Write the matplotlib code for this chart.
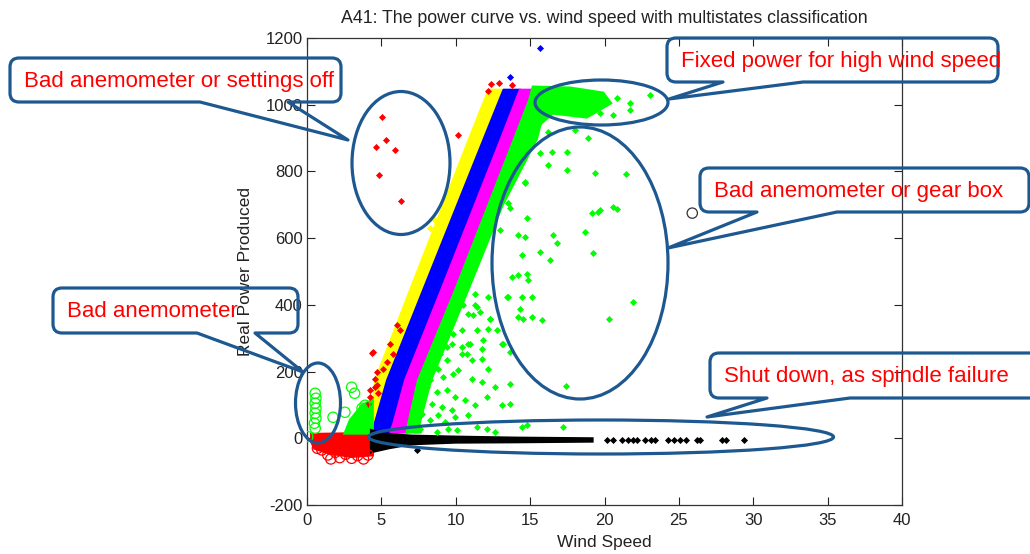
import matplotlib
matplotlib.use("Agg")
import matplotlib.pyplot as plt
from matplotlib.patches import Ellipse, PathPatch
from matplotlib.path import Path

plt.rcParams['font.family'] = ['Liberation Sans', 'DejaVu Sans']
plt.rcParams['axes.unicode_minus'] = False

# ---- data (wind speed, power) ----
# dense bands of the power curve, edges given at these power levels
band_y = [20, 45, 175, 445, 700, 900, 1045]
edge_yellow = [4.40, 4.30, 4.57, 6.92, 9.15, 10.90, 12.20]
edge_blue = [4.45, 4.55, 5.38, 7.80, 10.09, 11.89, 13.20]
edge_magenta = [5.60, 5.80, 6.59, 9.01, 11.27, 13.04, 14.30]
edge_green = [6.70, 6.80, 7.46, 9.95, 12.18, 13.93, 15.20]
edge_green_right = [7.60, 7.50, 8.27, 10.76, 13.08, 15.40, 16.20]

# green plateau at rated power
plateau_x = [14.9, 15.2, 17.7, 19.9, 20.4, 18.8, 16.5, 15.0]
plateau_y = [1000, 1053, 1050, 1035, 1005, 963, 975, 915]

# low speed blocks
red_block_x = [0.3, 4.4, 4.4, 3.0, 1.5, 0.5, 0.3]
red_block_y = [12, 15, -50, -55, -45, -30, -10]
green_block_x = [2.55, 4.4, 4.4, 3.7, 2.9]
green_block_y = [15, 15, 114, 99, 54]

# shut down band (power ~ 0)
black_band_x = [4.3, 5.0, 7.0, 10.0, 14.0, 19.2, 19.2, 14.0, 10.0, 7.0, 5.5, 4.3]
black_band_y = [25, 15, 8, 5, 2, 0, -10, -12, -13, -18, -30, -42]
black_x = [20.2, 20.6, 21.2, 21.6, 21.9, 22.2, 22.7, 23.1, 23.4, 24.3, 24.7,
           25.1, 25.5, 26.2, 26.4, 27.9, 28.2, 29.4, 7.4]
black_y = [-6, -6, -6, -6, -6, -6, -6, -6, -6, -6, -6,
           -6, -6, -6, -6, -6, -6, -6, -36]

red_x = [5.02, 5.31, 4.64, 5.92, 4.84, 6.30, 12.4, 12.9, 13.8, 12.2, 10.16,
         6.03, 5.58, 4.46, 5.80, 5.36, 4.69, 5.13, 4.57, 4.69, 4.24, 4.12,
         6.25, 4.35, 4.57, 4.77, 4.24]
red_y = [962, 894, 873, 864, 789, 712, 1062, 1066, 1060, 1040, 909,
         339, 284, 259, 254, 229, 199, 209, 179, 159, 144, 104,
         324, 256, 153, 135, 123]

blue_x = [13.65, 15.66]
blue_y = [1084, 1170]

yellow_x = [8.27, 8.60, 9.06, 7.93]
yellow_y = [630, 654, 645, 544]

green_x = [16.22, 18.91, 15.66, 16.45, 17.46, 16.22, 17.46, 19.36, 14.66, 13.53,
           13.65, 12.98, 14.21, 14.66, 14.77, 16.52, 16.79, 18.69, 19.14, 15.66,
           14.43, 16.34, 19.25, 13.76, 14.21, 14.77, 14.88, 12.19, 13.43, 14.43,
           15.11, 11.41, 14.32, 14.21, 14.54, 15.11, 15.78, 12.30, 12.19, 12.75,
           11.41, 10.84, 9.84, 10.40, 10.96, 11.85, 13.20, 10.74, 9.39, 10.06,
           10.51, 11.29,
           21.45, 20.59, 20.82, 19.70, 21.90, 20.32,
           10.40, 11.29, 11.18, 11.63, 12.30, 13.53, 9.39, 10.40, 9.16, 9.73,
           10.84, 11.74, 13.09, 13.65, 8.94, 9.39, 10.40, 11.07, 11.74, 12.19,
           10.17, 8.83, 9.16, 9.84, 11.07, 11.74, 12.64, 13.65, 8.27, 8.05,
           8.72, 9.39, 9.95, 10.62, 11.29, 12.08, 13.09, 13.65, 7.71, 8.38,
           9.06, 9.73, 7.71, 8.83, 10.84, 7.26, 8.27, 9.28, 9.95,
           9.50, 10.06, 11.41, 12.08, 12.64, 14.43, 14.77, 17.23, 8.72, 7.60,
           17.40, 20.82, 21.71, 23.06, 21.71, 20.59, 19.70, 18.02, 14.66, 19.59]
green_y = [919, 899, 854, 859, 859, 819, 804, 794, 764, 704,
           689, 624, 609, 604, 659, 609, 584, 619, 674, 559,
           549, 534, 554, 484, 489, 494, 474, 424, 424, 424,
           424, 394, 389, 364, 359, 364, 354, 359, 329, 324,
           324, 374, 314, 274, 284, 294, 284, 254, 274, 414,
           399, 434,
           792, 692, 686, 684, 409, 359,
           404, 399, 369, 379, 359, 424, 349, 324, 304, 284,
           284, 269, 284, 259, 254, 234, 254, 234, 239, 209,
           204, 209, 184, 194, 179, 169, 154, 164, 174, 154,
           139, 144, 124, 114, 99, 124, 99, 104, 114, 104,
           94, 84, 74, 69, 69, 64, 54, 49, 64,
           29, 24, 34, 29, 19, 34, 39, 34, 19, 29,
           156, 1019, 1004, 1029, 984, 969, 974, 924, 769, 679]

green_ring_x = [0.55, 0.60, 0.55, 0.60, 0.55, 0.60, 0.50, 0.55, 0.05,
                1.75, 2.55, 3.0, 3.2, 3.7, 3.9]
green_ring_y = [135, 120, 105, 90, 75, 60, 45, 30, 5,
                63, 78, 153, 135, 90, 99]
red_ring_x = [1.0, 1.4, 1.9, 2.2, 2.6, 3.0, 3.4, 3.8, 4.1, 1.6, 2.9, 0.7]
red_ring_y = [-35, -50, -42, -58, -48, -60, -52, -62, -50, -62, -40, -30]
black_ring_x = [25.9]
black_ring_y = [675]

x_ticks = [0, 5, 10, 15, 20, 25, 30, 35, 40]
y_ticks = [-200, 0, 200, 400, 600, 800, 1000, 1200]

# callouts: text, box (left, top, right, bottom in pixels), tail base x's, tip
callouts = [
    ("Bad anemometer or settings off", (10, 58, 341, 102), (200, 288), (348, 140)),
    ("Fixed power for high wind speed", (667, 38, 998, 82), (723, 803), (669, 99)),
    ("Bad anemometer or gear box", (700, 168, 1029, 212), (757, 837), (668, 248)),
    ("Bad anemometer", (53, 288, 298, 333), (197, 255), (303, 372)),
    ("Shut down, as spindle failure", (710, 353, 1045, 398), (767, 850), (707, 417)),
]
# ellipses: centre, width, height in pixels
rings = [((401, 163), 98, 143), ((601.5, 102.5), 133, 45), ((580, 263), 176, 272),
         ((318, 403), 45, 80), ((601, 437), 465, 34)]

W, H = 1030, 554
fig = plt.figure(figsize=(W / 100, H / 100), dpi=100)
ax = fig.add_axes([307 / W, 49 / H, 595 / W, 467 / H])

def band(left, right, color):
    ax.fill_betweenx(band_y, left, right, color=color, lw=2.2, zorder=2)

band(edge_yellow, edge_blue, '#ffff00')
band(edge_blue, edge_magenta, '#0000ff')
band(edge_magenta, edge_green, '#ff00ff')
band(edge_green, edge_green_right, '#00ff00')
ax.fill(plateau_x, plateau_y, color='#00ff00', lw=2.2, zorder=2)
ax.fill(red_block_x, red_block_y, color='#ff0000', lw=2, zorder=2)
ax.fill(green_block_x, green_block_y, color='#00ff00', lw=2, zorder=2)
ax.fill(black_band_x, black_band_y, color='black', lw=1.5, zorder=3)

mk = dict(marker='D', s=13, linewidths=0, zorder=4)
ax.scatter(green_x, green_y, c='#00ff00', **mk)
ax.scatter(yellow_x, yellow_y, c='#ffff00', **mk)
ax.scatter(red_x, red_y, c='#ff0000', **mk)
ax.scatter(blue_x, blue_y, c='#0000ff', **mk)
ax.scatter(black_x, black_y, c='black', **mk)
ax.scatter(green_ring_x, green_ring_y, s=55, facecolors='none',
           edgecolors='#00ff00', linewidths=0.9, zorder=4)
ax.scatter(red_ring_x, red_ring_y, s=55, facecolors='none',
           edgecolors='#ff0000', linewidths=0.9, zorder=4)
ax.scatter(black_ring_x, black_ring_y, s=55, facecolors='none',
           edgecolors='#333333', linewidths=0.9, zorder=4)

ax.set_xlim(0, 40)
ax.set_ylim(-200, 1200)
ax.set_xticks(x_ticks)
ax.set_yticks(y_ticks)
ax.tick_params(direction='in', length=5.5, width=0.8, top=True, right=True,
               labelsize=12, colors='#222222')
ax.tick_params(axis='x', pad=6)
ax.tick_params(axis='y', pad=3)
for s in ax.spines.values():
    s.set_color('#333333')
    s.set_linewidth(0.9)
ax.set_title('A41: The power curve vs. wind speed with multistates classification',
             fontsize=12.8, color='#222222', pad=11)
ax.set_xlabel('Wind Speed', fontsize=12.5, color='#222222', labelpad=5)
ax.set_ylabel('Real Power Produced', fontsize=12.5, color='#222222', labelpad=9)

# annotation layer in pixel coordinates
ov = fig.add_axes([0, 0, 1, 1], zorder=10)
ov.set_xlim(0, W)
ov.set_ylim(H, 0)
ov.axis('off')
ov.patch.set_alpha(0)
line_col = '#1d5890'

for (cx, cy), w, h in rings:
    ov.add_patch(Ellipse((cx, cy), w, h, fill=False, ec=line_col, lw=2.3))

for text, (x0, y0, x1, y1), (b1, b2), tip, in callouts:
    r = 9
    verts = [(x0 + r, y0), (x1 - r, y0), (x1, y0), (x1, y0 + r),
             (x1, y1 - r), (x1, y1), (x1 - r, y1),
             (b2, y1), tip, (b1, y1),
             (x0 + r, y1), (x0, y1), (x0, y1 - r),
             (x0, y0 + r), (x0, y0), (x0 + r, y0), (x0 + r, y0)]
    codes = [Path.MOVETO, Path.LINETO, Path.CURVE3, Path.CURVE3,
             Path.LINETO, Path.CURVE3, Path.CURVE3,
             Path.LINETO, Path.LINETO, Path.LINETO,
             Path.LINETO, Path.CURVE3, Path.CURVE3,
             Path.LINETO, Path.CURVE3, Path.CURVE3, Path.CLOSEPOLY]
    ov.add_patch(PathPatch(Path(verts, codes), fill=False, ec=line_col,
                           lw=2.3, joinstyle='round'))
    ov.text(x0 + 14, (y0 + y1) / 2 + 1, text, color='#ff0000', fontsize=16,
            ha='left', va='center')

fig.savefig('out.png', dpi=100)
